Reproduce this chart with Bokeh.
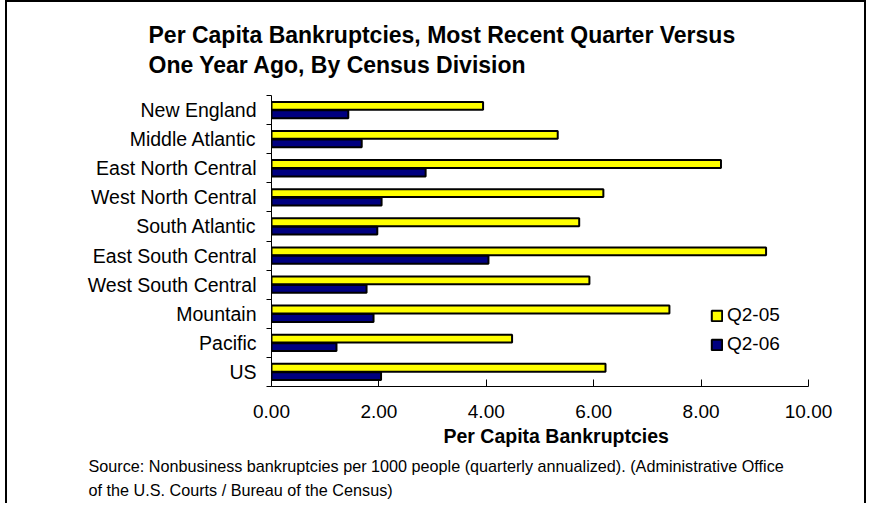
from bokeh.plotting import figure
from bokeh.models import (Range1d, FixedTicker, Legend, LegendItem, Title,
                          ColumnDataSource, PrintfTickFormatter)
from bokeh.transform import dodge
from bokeh.embed import file_html
from bokeh.resources import INLINE

# ---- data ----
categories = ["New England", "Middle Atlantic", "East North Central",
              "West North Central", "South Atlantic", "East South Central",
              "West South Central", "Mountain", "Pacific", "US"]
q2_05 = [3.94, 5.33, 8.37, 6.18, 5.73, 9.21, 5.92, 7.41, 4.48, 6.22]
q2_06 = [1.43, 1.68, 2.87, 2.05, 1.97, 4.04, 1.77, 1.90, 1.21, 2.04]
series_names = ["Q2-05", "Q2-06"]
x_ticks = [0, 2, 4, 6, 8, 10]
title_lines = ["Per Capita Bankruptcies, Most Recent Quarter Versus",
               "One Year Ago, By Census Division"]
x_title = "Per Capita Bankruptcies"
source_lines = ["Source:  Nonbusiness bankruptcies per 1000 people (quarterly annualized). (Administrative Office",
                "of the U.S. Courts / Bureau of the Census)"]

FONT = "Liberation Sans"
OX, OY = 7, 2                      # canvas origin on the page (inside the CSS frame)
W, H = 861, 503
FL, FR, FT, FB = 271 - OX, 808 - OX, 95 - OY, 386 - OY   # frame edges in canvas px

n = len(categories)
ypos = [n - 1 - i for i in range(n)]

p = figure(width=W, height=H, output_backend="svg", toolbar_location=None,
           x_range=Range1d(0, 10), y_range=Range1d(-0.5, n - 0.5),
           min_border_left=FL, min_border_right=W - FR,
           min_border_top=FT, min_border_bottom=H - FB, title=None)
p.styles = {"margin-left": "5px", "border-top": "2px solid black",
            "border-left": "2px solid black", "border-right": "2px solid black"}
p.outline_line_color = None
p.xgrid.visible = False
p.ygrid.visible = False
p.background_fill_color = "white"
p.border_fill_color = "white"

src = ColumnDataSource(dict(y=ypos, q05=q2_05, q06=q2_06, cat=categories))
r1 = p.hbar(y=dodge("y", 0.145), left=0, right="q05", height=0.27, source=src,
            fill_color="#FFFF00", line_color="black", line_width=2)
r2 = p.hbar(y=dodge("y", -0.145), left=0, right="q06", height=0.27, source=src,
            fill_color="#000080", line_color="black", line_width=2)

# x axis
xa = p.xaxis[0]
xa.ticker = FixedTicker(ticks=x_ticks)
xa.formatter = PrintfTickFormatter(format="%.2f")
xa.major_tick_in = 7
xa.major_tick_out = 0
xa.minor_tick_line_color = None
xa.axis_line_color = "black"
xa.major_tick_line_color = "black"
xa.major_label_text_font = FONT
xa.major_label_text_font_size = "19px"
xa.major_label_text_color = "black"
xa.major_label_standoff = 18

# y axis: labels at centres, ticks at boundaries
ya = p.yaxis[0]
ya.ticker = FixedTicker(ticks=ypos, minor_ticks=[k - 0.5 for k in range(n + 1)])
ya.major_label_overrides = {yv: c for yv, c in zip(ypos, categories)}
ya.major_tick_line_color = None
ya.major_tick_out = 0
ya.minor_tick_in = 0
ya.minor_tick_out = 5
ya.minor_tick_line_color = "black"
ya.axis_line_color = "black"
ya.major_label_text_font = FONT
ya.major_label_text_font_size = "19.5px"
ya.major_label_text_color = "black"
ya.major_label_standoff = 10

legend = Legend(items=[LegendItem(label=series_names[0], renderers=[r1]),
                       LegendItem(label=series_names[1], renderers=[r2])],
                location=(710 - 271, 30), orientation="vertical",
                glyph_width=13, glyph_height=13, label_height=24,
                label_standoff=4, spacing=5, padding=0, margin=0,
                border_line_color=None, background_fill_alpha=0,
                label_text_font=FONT, label_text_font_size="19px",
                label_text_color="black")
p.add_layout(legend)

def title(text, side, size, bold, align, offset, standoff, line_height=1.2):
    p.add_layout(Title(text=text, align=align, offset=offset, standoff=standoff,
                       text_font=FONT, text_font_size=size,
                       text_font_style="bold" if bold else "normal",
                       text_line_height=line_height,
                       text_color="black"), side)

# above: two-line chart title
title("\n".join(title_lines), "above", "23px", True, "left", 148 - 271, 34, 1.17)
# below
title(x_title, "below", "19.5px", True, "left", 443 - 271, 5)
title(source_lines[0], "below", "16.2px", False, "left", 88 - 271, 10)
title(source_lines[1], "below", "16.2px", False, "left", 88 - 271, -1)

open("out.html", "w").write(file_html(p, INLINE))
